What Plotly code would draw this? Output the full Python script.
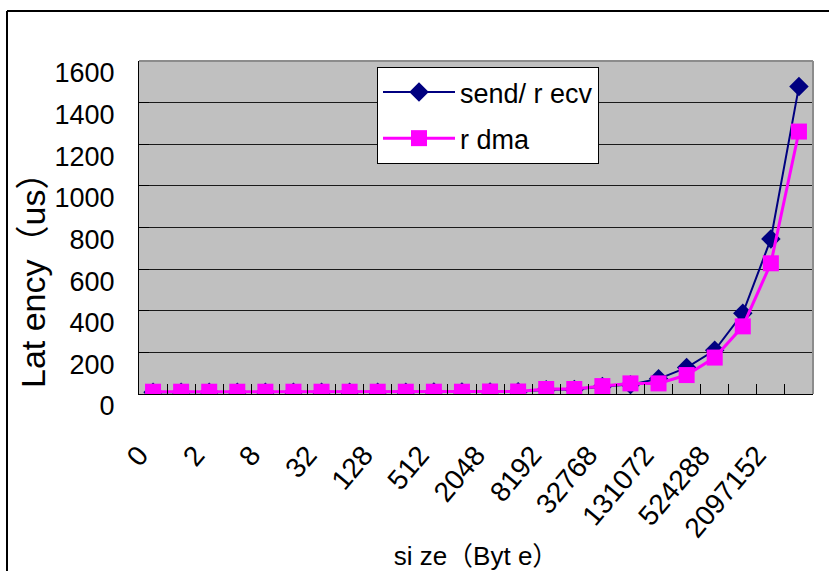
import plotly.graph_objects as go

# Message sizes (bytes) on the category axis
sizes = ["0", "1", "2", "4", "8", "16", "32", "64", "128", "256", "512", "1024",
         "2048", "4096", "8192", "16384", "32768", "65536", "131072", "262144",
         "524288", "1048576", "2097152", "4194304"]

# Latency in microseconds
send_recv = [9, 9, 9, 9, 9, 9, 9, 9, 9, 9, 10, 10,
             10, 11, 21, 22, 36, 45, 73, 127, 210, 388, 745, 1478]
rdma = [11, 11, 11, 11, 11, 11, 11, 11, 11, 11, 11, 11,
        12, 12, 24, 24, 38, 51, 51, 91, 175, 325, 628, 1261]

# Every other size is labelled on the x axis
label_idx = list(range(0, len(sizes), 2))
label_txt = [sizes[i] for i in label_idx]

W, H = 829, 571
L, R, T, B = 139, 16, 61, 177
PW, PH = W - L - R, H - T - B

def px_x(x):
    return (x - L) / PW

def px_y(y):
    return (H - B - y) / PH

FONT = "Liberation Sans, Arial, Noto Sans CJK SC"

fig = go.Figure()
fig.add_trace(go.Scatter(
    x=sizes, y=send_recv, name="send/ r ecv", mode="lines+markers",
    line=dict(color="#000080", width=2),
    marker=dict(symbol="diamond", size=15, color="#000080"),
    legendgroup="a",
))
fig.add_trace(go.Scatter(
    x=sizes, y=rdma, name="r dma", mode="lines+markers",
    line=dict(color="#FF00FF", width=3),
    marker=dict(symbol="square", size=16, color="#FF00FF"),
    legendgroup="b",
))
# carrier for the x tick labels (second, label-only axis)
fig.add_trace(go.Scatter(x=[], y=[], xaxis="x2", showlegend=False, hoverinfo="skip"))

fig.update_layout(
    width=W, height=H,
    margin=dict(l=L, r=R, t=T, b=B, autoexpand=False),
    paper_bgcolor="white",
    plot_bgcolor="#C0C0C0",
    font=dict(family=FONT, color="black"),
    showlegend=True,
    legend=dict(
        x=px_x(377), y=px_y(67), xanchor="left", yanchor="top",
        bgcolor="white", bordercolor="black", borderwidth=1,
        font=dict(size=27, family=FONT), tracegroupgap=8,
        traceorder="grouped", itemwidth=72,
    ),
    xaxis=dict(
        type="category", categoryorder="array", categoryarray=sizes,
        range=[-0.5, len(sizes) - 0.5],
        tickson="boundaries", ticks="inside", ticklen=10, tickcolor="black",
        showticklabels=False, showgrid=False,
        showline=True, linecolor="black", linewidth=1,
    ),
    xaxis2=dict(
        overlaying="x", anchor="y", side="bottom",
        range=[-0.5, len(sizes) - 0.5],
        tickmode="array", tickvals=label_idx, ticktext=label_txt,
        tickangle=-50, ticks="", showgrid=False, showline=False, zeroline=False,
        tickfont=dict(size=28, family=FONT),
        ticklabelstandoff=38, ticklabelshift=-14,
        title=dict(text="si ze（Byt e）", font=dict(size=26, family=FONT), standoff=8),
    ),
    yaxis=dict(
        range=[0, 1600], dtick=200, tick0=0,
        ticks="inside", ticklen=10, tickcolor="black",
        showgrid=True, gridcolor="#1a1a1a", gridwidth=1,
        showline=True, linecolor="black", linewidth=1,
        zeroline=False,
        tickfont=dict(size=27, family=FONT),
        ticklabelstandoff=18, ticklabelshift=12,
    ),
    annotations=[
        dict(text="Lat ency（us）", textangle=-90, showarrow=False,
             xref="paper", yref="paper", x=px_x(33), y=px_y(272),
             xanchor="center", yanchor="middle",
             font=dict(size=34, family=FONT, color="black")),
    ],
    shapes=[
        # gray top and right edges of the plot area
        dict(type="line", xref="paper", yref="paper", x0=0, x1=1, y0=1, y1=1,
             line=dict(color="#8c8c8c", width=2), layer="above"),
        dict(type="line", xref="paper", yref="paper", x0=1, x1=1, y0=0, y1=1,
             line=dict(color="#8c8c8c", width=2), layer="above"),
        # outer chart frame (top and left)
        dict(type="line", xref="paper", yref="paper",
             x0=px_x(7), x1=px_x(840), y0=px_y(11), y1=px_y(11),
             line=dict(color="black", width=2)),
        dict(type="line", xref="paper", yref="paper",
             x0=px_x(7), x1=px_x(7), y0=px_y(11), y1=px_y(590),
             line=dict(color="black", width=2)),
    ],
)

fig.write_html("out.html")
